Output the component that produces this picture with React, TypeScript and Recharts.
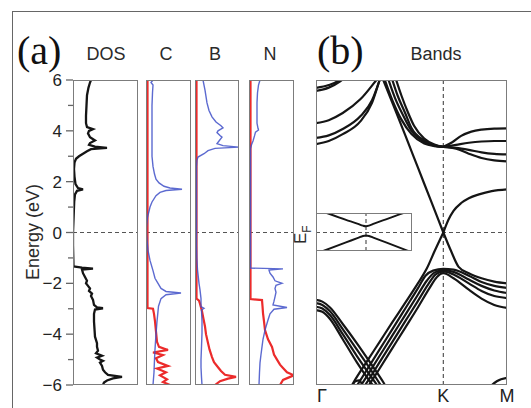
import { LineChart, Line, XAxis, YAxis, ReferenceLine } from "recharts";

type Pt = [number, number];

// ---------- panel (a): DOS, [energy eV, weight] ----------
const energyTicks = [-6, -5, -4, -3, -2, -1, 0, 1, 2, 3, 4, 5, 6];

const dosTotal: Pt[] = [
  [6.0, 18], [5.9, 17], [5.7, 15.5], [5.4, 14], [5.0, 13.5], [4.6, 13], [4.3, 13], [4.15, 14],
  [4.07, 20], [4.0, 16], [3.9, 15], [3.75, 17], [3.62, 22], [3.52, 17], [3.45, 16], [3.38, 22],
  [3.33, 34], [3.28, 18], [3.2, 14], [3.1, 10], [3.0, 6], [2.9, 3], [2.75, 1.5], [2.5, 1],
  [2.2, 1.5], [1.9, 2.5], [1.75, 5], [1.7, 10], [1.64, 4], [1.5, 2], [1.2, 1.2], [0.8, 0.8],
  [0.3, 0.3], [0, 0], [-0.5, 0], [-1.0, 0.3], [-1.33, 0.5], [-1.38, 9], [-1.42, 20], [-1.46, 9],
  [-1.6, 10], [-1.75, 12], [-1.9, 14], [-2.0, 13], [-2.1, 15], [-2.2, 17], [-2.3, 16], [-2.4, 19],
  [-2.5, 18], [-2.65, 20], [-2.85, 21], [-2.95, 24], [-2.98, 30], [-3.03, 22], [-3.2, 21],
  [-3.5, 21], [-3.8, 21.5], [-4.1, 22], [-4.35, 24], [-4.5, 24], [-4.65, 25], [-4.75, 23],
  [-4.85, 29], [-4.92, 24], [-5.0, 27], [-5.05, 30], [-5.12, 27], [-5.25, 29], [-5.4, 30],
  [-5.5, 32], [-5.6, 35], [-5.68, 49], [-5.74, 40], [-5.82, 34], [-5.9, 31], [-6.0, 30],
];

const carbonRed: Pt[] = [
  [6, 1.5], [-2.97, 1.5], [-3.0, 7], [-3.2, 8], [-3.5, 9], [-3.9, 10], [-4.3, 11], [-4.5, 13],
  [-4.62, 22], [-4.72, 7], [-4.82, 17], [-4.95, 10], [-5.1, 12], [-5.25, 22], [-5.35, 11],
  [-5.5, 20], [-5.62, 14], [-5.78, 21], [-5.88, 17], [-6.0, 24],
];
const carbonBlue: Pt[] = [
  [6, 7], [5.9, 5], [5.8, 7], [5.5, 6.5], [5, 6], [4, 6], [3, 6], [2.6, 7], [2.3, 8.5], [2.1, 10],
  [1.95, 13], [1.82, 18], [1.75, 24], [1.7, 36], [1.65, 20], [1.58, 14], [1.45, 10], [1.2, 6],
  [1.0, 4], [0.6, 1.5], [0.2, 0.5], [0, 0.5], [-0.3, 1], [-0.7, 2], [-1.1, 4], [-1.5, 7],
  [-1.8, 9], [-2.0, 12], [-2.2, 15], [-2.32, 20], [-2.38, 35], [-2.45, 20], [-2.6, 15],
  [-2.9, 12.5], [-3.5, 11], [-4, 10], [-4.6, 9], [-5, 8.5], [-5.5, 8], [-6, 7],
];

const boronRed: Pt[] = [
  [6, 1.5], [-2.6, 1.5], [-2.68, 4], [-2.8, 5], [-3.1, 7], [-3.4, 8.5], [-3.7, 10], [-4.0, 11],
  [-4.35, 13], [-4.6, 14.5], [-4.9, 17], [-5.1, 19], [-5.3, 23], [-5.45, 26], [-5.6, 30],
  [-5.68, 41], [-5.75, 33], [-5.85, 25], [-6, 20],
];
const boronBlue: Pt[] = [
  [6, 8], [5.6, 10], [5.1, 12], [4.8, 14], [4.55, 17], [4.35, 21], [4.2, 26], [4.12, 28],
  [4.0, 23], [3.93, 22], [3.82, 25], [3.75, 27], [3.6, 24], [3.5, 22], [3.42, 28], [3.36, 44],
  [3.31, 20], [3.22, 13], [3.1, 9], [2.97, 3], [2.85, 2], [2.6, 1.5], [-0.5, 1.5], [-1.0, 1.8],
  [-1.47, 2.5], [-2.0, 4], [-2.26, 5], [-2.6, 6], [-2.92, 6], [-2.98, 9], [-3.05, 6.5],
  [-3.5, 7], [-3.95, 7], [-4.5, 6.5], [-5.0, 6], [-5.3, 6], [-5.7, 6.5], [-6, 7],
];

const nitrogenRed: Pt[] = [
  [6, 1.5], [-2.62, 1.5], [-2.66, 13], [-2.9, 13.5], [-3.17, 14], [-3.5, 15], [-3.84, 16],
  [-4.2, 19], [-4.5, 23], [-4.8, 25], [-5.0, 28], [-5.2, 31], [-5.33, 34], [-5.5, 38],
  [-5.62, 45], [-5.7, 40], [-5.8, 34], [-6, 31],
];
const nitrogenBlue: Pt[] = [
  [6, 11], [5.8, 9.5], [5.5, 8.5], [5.1, 8], [4.6, 8], [4.3, 8], [4.1, 9], [4.03, 9.5],
  [3.95, 6.5], [3.8, 5.5], [3.6, 4], [3.45, 2.5], [3.3, 1.5], [-1.4, 1.5], [-1.43, 34],
  [-1.48, 20], [-1.6, 21], [-1.75, 24], [-1.9, 26], [-2.0, 33], [-2.08, 27], [-2.2, 26],
  [-2.35, 27], [-2.53, 26], [-2.7, 25], [-2.85, 24], [-2.95, 38], [-3.02, 25], [-3.2, 21],
  [-3.44, 19], [-3.84, 16], [-4.2, 14], [-4.5, 13], [-4.8, 12], [-5.13, 11], [-5.5, 10.5],
  [-6, 10],
];

// ---------- panel (b): bands, [k, energy eV]  (Γ=0, K=1, M=1.5) ----------
const kTicks = [0, 1, 1.5];
const kLabels = ["Γ", "K", "M"];

const gammaUp1: Pt[] = [[0, 5.69], [0.1, 5.8], [0.17, 5.95], [0.22, 6.15]];
const gammaUp2: Pt[] = [[0, 5.57], [0.1, 5.7], [0.19, 5.95], [0.24, 6.15]];
const gammaUp3: Pt[] = [[0, 4.3], [0.1, 4.42], [0.21, 4.7], [0.35, 5.25], [0.48, 6.03], [0.5, 6.15]];
const gammaUp4: Pt[] = [[0, 3.72], [0.1, 3.82], [0.21, 4.07], [0.35, 4.58], [0.44, 5.2], [0.5, 6.0], [0.51, 6.15]];
const gammaUp5: Pt[] = [[0, 3.48], [0.1, 3.6], [0.21, 3.87], [0.35, 4.38], [0.44, 5.1], [0.5, 6.0], [0.51, 6.15]];

const upperLeft1: Pt[] = [[0.53, 6.15], [0.6, 5.2], [0.67, 4.45], [0.75, 3.87], [0.85, 3.5], [0.93, 3.4], [1.0, 3.37]];
const upperLeft2: Pt[] = [[0.56, 6.15], [0.62, 5.3], [0.68, 4.65], [0.75, 4.0], [0.85, 3.56], [0.93, 3.42], [1.0, 3.37]];
const upperLeft3: Pt[] = [[0.59, 6.15], [0.64, 5.4], [0.7, 4.7], [0.75, 4.11], [0.85, 3.62], [0.93, 3.44], [1.0, 3.37]];
const upperLeft4: Pt[] = [[0.62, 6.15], [0.67, 5.4], [0.72, 4.75], [0.77, 4.2], [0.85, 3.7], [0.93, 3.46], [1.0, 3.37]];
const upperRight1: Pt[] = [[1.0, 3.37], [1.07, 3.55], [1.14, 3.8], [1.22, 3.97], [1.3, 4.05], [1.4, 4.09], [1.5, 4.1]];
const upperRight2: Pt[] = [[1.0, 3.37], [1.1, 3.45], [1.2, 3.53], [1.3, 3.58], [1.4, 3.6], [1.5, 3.6]];
const upperRight3: Pt[] = [[1.0, 3.37], [1.1, 3.33], [1.2, 3.25], [1.3, 3.15], [1.4, 3.09], [1.5, 3.07]];
const upperRight4: Pt[] = [[1.0, 3.37], [1.1, 3.3], [1.2, 3.1], [1.3, 2.93], [1.4, 2.84], [1.5, 2.8]];

const piStarLeft: Pt[] = [[0.48, 6.6], [0.6, 5.1], [0.7, 3.84], [0.8, 2.56], [0.9, 1.28], [1.0, 0]];
const piStarRight: Pt[] = [[1.0, 0], [1.04, 0.5], [1.08, 0.85], [1.14, 1.16], [1.2, 1.35], [1.28, 1.5], [1.38, 1.63], [1.5, 1.7]];
const piLeft: Pt[] = [[0.26, -6.2], [0.3, -5.85], [0.4, -5.07], [0.5, -4.3], [0.6, -3.53], [0.7, -2.77], [0.8, -2.0], [0.87, -1.42], [0.93, -0.75], [1.0, 0]];
const piRight: Pt[] = [[1.0, 0], [1.06, -0.72], [1.12, -1.35], [1.2, -1.6], [1.3, -1.8], [1.4, -1.93], [1.5, -2.0]];

const sigma1: Pt[] = [[0.3, -6.2], [0.4, -5.4], [0.5, -4.6], [0.6, -3.8], [0.7, -3.0], [0.8, -2.2], [0.86, -1.7], [0.92, -1.5], [1.0, -1.43], [1.08, -1.46], [1.2, -1.7], [1.3, -1.95], [1.4, -2.1], [1.5, -2.18]];
const sigma2: Pt[] = [[0.33, -6.2], [0.4, -5.65], [0.5, -4.85], [0.6, -4.05], [0.7, -3.25], [0.8, -2.45], [0.87, -1.9], [0.93, -1.58], [1.0, -1.48], [1.08, -1.55], [1.2, -1.85], [1.3, -2.1], [1.4, -2.28], [1.5, -2.38]];
const sigma3: Pt[] = [[0.36, -6.2], [0.4, -5.9], [0.5, -5.1], [0.6, -4.3], [0.7, -3.5], [0.8, -2.7], [0.88, -2.05], [0.94, -1.65], [1.0, -1.53], [1.08, -1.65], [1.2, -2.0], [1.3, -2.3], [1.4, -2.5], [1.5, -2.58]];
const sigma4: Pt[] = [[0.39, -6.2], [0.5, -5.35], [0.6, -4.55], [0.7, -3.75], [0.8, -2.95], [0.89, -2.2], [0.95, -1.75], [1.0, -1.6], [1.08, -1.8], [1.2, -2.25], [1.3, -2.6], [1.4, -2.85], [1.5, -2.97]];

const gammaLow1: Pt[] = [[0, -2.65], [0.05, -2.72], [0.11, -2.95], [0.21, -3.6], [0.32, -4.35], [0.43, -5.15], [0.53, -5.9], [0.56, -6.15]];
const gammaLow2: Pt[] = [[0, -2.78], [0.05, -2.85], [0.11, -3.1], [0.21, -3.8], [0.32, -4.6], [0.43, -5.4], [0.52, -6.1]];
const gammaLow3: Pt[] = [[0, -2.92], [0.05, -2.99], [0.11, -3.25], [0.21, -4.0], [0.32, -4.85], [0.43, -5.65], [0.5, -6.15]];
const gammaLow4: Pt[] = [[0, -3.05], [0.05, -3.12], [0.11, -3.4], [0.21, -4.2], [0.32, -5.1], [0.43, -5.9], [0.47, -6.15]];
const arcBottom: Pt[] = [[0.28, -6.1], [0.31, -5.85], [0.34, -5.82], [0.37, -6.1]];
const arcM: Pt[] = [[1.36, -6.1], [1.42, -5.85], [1.5, -5.72]];

const bandLines: Pt[][] = [
  gammaUp1, gammaUp2, gammaUp3, gammaUp4, gammaUp5,
  upperLeft1, upperLeft2, upperLeft3, upperLeft4,
  upperRight1, upperRight2, upperRight3, upperRight4,
  piStarLeft, piStarRight, piLeft, piRight,
  sigma1, sigma2, sigma3, sigma4,
  gammaLow1, gammaLow2, gammaLow3, gammaLow4, arcBottom, arcM,
];

// inset: zoom of the Dirac point (box units)
const insetUpper: Pt[] = [[10.7, 19], [30, 12.2], [42, 8.2], [47, 6.3], [50, 5.8], [53, 6.3], [58, 8.3], [70, 12.7], [87.3, 19]];
const insetLower: Pt[] = [[7.3, -19], [30, -10.4], [42, -5.9], [47, -4], [50, -3.5], [53, -4], [58, -5.9], [70, -10.4], [92.3, -19]];

const FONT = "'Liberation Sans', Arial, Helvetica, sans-serif";
const SERIF = "'Liberation Serif', 'Times New Roman', serif";
const RED = "#ec2b2b";
const BLUE = "#4050c8";
const BLACK = "#151515";
const DASH = { stroke: "#555", strokeDasharray: "4 3", strokeWidth: 1.2 };
const PANEL_TOP = 80;
const PANEL_H = 305;
const BORDER = "1.5px solid #7c7c7c";

interface Series {
  pts: Pt[];
  color: string;
  width: number;
  opacity?: number;
}

const toDos = (pts: Pt[]) => pts.map(([e, d]) => ({ e, d }));
const toBand = (pts: Pt[]) => pts.map(([k, e]) => ({ k, e }));

const EnergyTick = (props: any) => {
  const { x, y, payload } = props;
  const v = payload.value as number;
  const major = v % 2 === 0;
  return (
    <g>
      <line x1={x - (major ? 7 : 5)} x2={x} y1={y} y2={y} stroke="#666" strokeWidth={1.3} />
      {major && (
        <text x={x - 11} y={y} dy="0.36em" textAnchor="end" fontSize={17} fontFamily={FONT} fill="#222">
          {v < 0 ? `\u2212${-v}` : v}
        </text>
      )}
    </g>
  );
};

const KTick = (props: any) => {
  const { x, y, payload } = props;
  const v = payload.value as number;
  const label = kLabels[kTicks.indexOf(v)];
  return (
    <text x={v === 0 ? x + 1 : x} y={y + 17} textAnchor={v === 0 ? "start" : "middle"} fontSize={18} fontFamily={FONT} fill="#222">
      {label}
    </text>
  );
};

const Frame = ({ left, top, width, height }: { left: number; top: number; width: number; height: number }) => (
  <div style={{ position: "absolute", left, top, width, height, border: BORDER, boxSizing: "border-box", pointerEvents: "none" }} />
);

const DosPanel = ({ left, width, series, axis }: { left: number; width: number; series: Series[]; axis?: boolean }) => {
  const axisW = axis ? 53 : 0;
  const padY = axis ? 10 : 0;
  return (
    <>
      <div style={{ position: "absolute", left: left - axisW, top: PANEL_TOP - padY }}>
        <LineChart
          layout="vertical"
          width={width + axisW}
          height={PANEL_H + 2 * padY}
          margin={{ top: padY, right: 0, bottom: padY, left: 0 }}
        >
          <XAxis type="number" domain={[0, width]} hide allowDataOverflow />
          <YAxis
            type="number"
            dataKey="e"
            domain={[-6, 6]}
            reversed
            ticks={energyTicks}
            interval={0}
            hide={!axis}
            width={axisW}
            axisLine={false}
            tickLine={false}
            tickSize={0}
            tickMargin={0}
            tick={<EnergyTick />}
            allowDataOverflow
          />
          <ReferenceLine y={0} {...DASH} />
          {series.map((s, i) => (
            <Line
              key={i}
              data={toDos(s.pts)}
              dataKey="d"
              type="linear"
              stroke={s.color}
              strokeWidth={s.width}
              strokeOpacity={s.opacity ?? 1}
              dot={false}
              activeDot={false}
              isAnimationActive={false}
            />
          ))}
        </LineChart>
      </div>
      <Frame left={left} top={PANEL_TOP} width={width} height={PANEL_H} />
    </>
  );
};

export default function App() {
  return (
    <div style={{ position: "absolute", left: 0, top: 0, width: 531, height: 408, overflow: "hidden", background: "#fff" }}>
      <div style={{ position: "absolute", left: 12, top: 11, width: 540, height: 420, borderLeft: "1px solid #666", borderTop: "1px solid #666" }} />

      <DosPanel left={73} width={65} axis series={[{ pts: dosTotal, color: BLACK, width: 2.3 }]} />
      <DosPanel
        left={146}
        width={45}
        series={[
          { pts: carbonRed, color: RED, width: 2.2 },
          { pts: carbonBlue, color: BLUE, width: 1.4, opacity: 0.85 },
        ]}
      />
      <DosPanel
        left={195}
        width={44}
        series={[
          { pts: boronRed, color: RED, width: 2.2 },
          { pts: boronBlue, color: BLUE, width: 1.4, opacity: 0.85 },
        ]}
      />
      <DosPanel
        left={249}
        width={45}
        series={[
          { pts: nitrogenRed, color: RED, width: 2.2 },
          { pts: nitrogenBlue, color: BLUE, width: 1.4, opacity: 0.85 },
        ]}
      />

      <div style={{ position: "absolute", left: 316, top: PANEL_TOP }}>
        <LineChart width={205} height={PANEL_H + 25} margin={{ top: 0, right: 14, bottom: 0, left: 0 }}>
          <XAxis
            type="number"
            dataKey="k"
            domain={[0, 1.5]}
            ticks={kTicks}
            interval={0}
            height={25}
            axisLine={false}
            tickLine={false}
            tickSize={0}
            tickMargin={0}
            tick={<KTick />}
            allowDataOverflow
          />
          <YAxis type="number" domain={[-6, 6]} hide allowDataOverflow />
          <ReferenceLine y={0} {...DASH} />
          <ReferenceLine x={1} {...DASH} />
          {bandLines.map((b, i) => (
            <Line
              key={i}
              data={toBand(b)}
              dataKey="e"
              type="monotone"
              stroke={BLACK}
              strokeWidth={2.2}
              dot={false}
              activeDot={false}
              isAnimationActive={false}
            />
          ))}
        </LineChart>
      </div>
      <Frame left={316} top={PANEL_TOP} width={191} height={PANEL_H} />

      <div style={{ position: "absolute", left: 316, top: 213 }}>
        <LineChart width={96} height={38} margin={{ top: 0, right: 0, bottom: 0, left: 0 }}>
          <XAxis type="number" dataKey="k" domain={[0, 96]} hide allowDataOverflow />
          <YAxis type="number" domain={[-19, 19]} hide allowDataOverflow />
          <ReferenceLine x={50} {...DASH} />
          {[insetUpper, insetLower].map((b, i) => (
            <Line
              key={i}
              data={toBand(b)}
              dataKey="e"
              type="monotone"
              stroke={BLACK}
              strokeWidth={1.9}
              dot={false}
              activeDot={false}
              isAnimationActive={false}
            />
          ))}
        </LineChart>
      </div>
      <Frame left={316} top={213} width={96} height={38} />

      <svg width={531} height={408} style={{ position: "absolute", left: 0, top: 0, pointerEvents: "none" }}>
        <text x={17} y={64} fontSize={40} fontFamily={SERIF} fill="#111">(a)</text>
        <text x={317} y={64} fontSize={40} fontFamily={SERIF} fill="#111">(b)</text>
        <g fontFamily={FONT} fontSize={18} fill="#2a2a2a" textAnchor="middle">
          <text x={106} y={60}>DOS</text>
          <text x={166} y={60}>C</text>
          <text x={215} y={60}>B</text>
          <text x={270} y={60}>N</text>
          <text x={436} y={60}>Bands</text>
          <text x={39} y={232} transform="rotate(-90 39 232)">Energy (eV)</text>
        </g>
        <text x={306} y={244} transform="rotate(-90 306 244)" fontFamily={FONT} fontSize={17} fill="#2a2a2a">
          E<tspan dy={5} fontSize={12}>F</tspan>
        </text>
      </svg>
    </div>
  );
}
